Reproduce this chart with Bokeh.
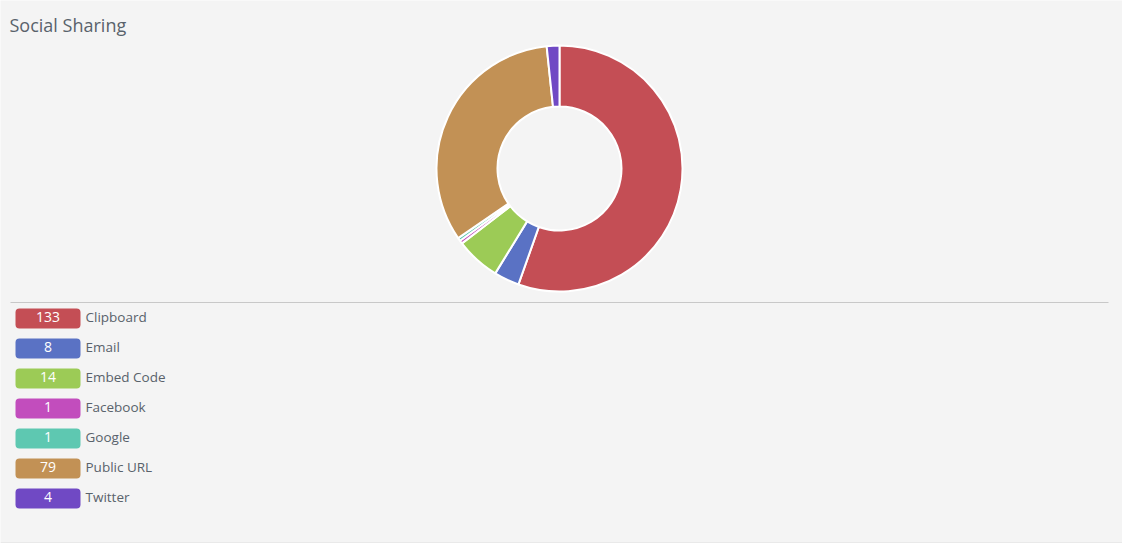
import numpy as np
from bokeh.plotting import figure
from bokeh.models import Range1d, ColumnDataSource
from bokeh.core.properties import value
from bokeh.embed import file_html
from bokeh.resources import INLINE

# Share counts per channel
channels = ["Clipboard", "Email", "Embed Code", "Facebook", "Google", "Public URL", "Twitter"]
counts = [133, 8, 14, 1, 1, 79, 4]
colors = ["#c44e55", "#5a72c4", "#9ccb56", "#c24dbd", "#5ec8b1", "#c29155", "#7049c4"]

W, H = 1122, 543
FONT = value("Open Sans")

p = figure(width=W, height=H, x_range=Range1d(0, W), y_range=Range1d(0, H),
           output_backend="svg", toolbar_location=None, min_border=0,
           background_fill_color="#f4f4f4", border_fill_color="#f4f4f4",
           outline_line_color=None)
p.xaxis.visible = False
p.yaxis.visible = False
p.xgrid.visible = False
p.ygrid.visible = False


def sy(y):
    # page-style y (top-down) to plot y
    return H - y


# Donut, starting at 12 o'clock and running clockwise
vals = np.array(counts, dtype=float)
frac = vals / vals.sum()
cum = np.concatenate([[0.0], np.cumsum(frac)])
start = np.pi / 2 - cum[1:] * 2 * np.pi
end = np.pi / 2 - cum[:-1] * 2 * np.pi
donut = ColumnDataSource(dict(start=start, end=end, color=colors))
p.annular_wedge(x=559, y=sy(168), inner_radius=62, outer_radius=123,
                start_angle="start", end_angle="end", direction="anticlock",
                fill_color="color", line_color="white", line_width=2, source=donut)

# Title
p.text(x=[9], y=[sy(24)], text=["Social Sharing"], text_font=FONT,
       text_font_size="18px", text_color="#59626b", text_baseline="middle")

# Divider lines
p.segment(x0=[10], y0=[sy(302)], x1=[1108], y1=[sy(302)], line_color="#c8c8c8", line_width=1)
p.segment(x0=[0], y0=[sy(542.5)], x1=[W], y1=[sy(542.5)], line_color="#dedede", line_width=1)

# Legend badges with counts
rows = [318 + 30 * i for i in range(len(channels))]
leg = ColumnDataSource(dict(
    top=[sy(r - 10) for r in rows], bottom=[sy(r + 10) for r in rows],
    y=[sy(r - 1.5) for r in rows], color=colors, label=[str(c) for c in counts],
    name=channels))
p.quad(left=15, right=80, top="top", bottom="bottom", fill_color="color",
       line_color=None, border_radius=4, source=leg)
p.text(x=47.5, y="y", text="label", source=leg, text_font=FONT, text_font_size="14px",
       text_color="white", text_align="center", text_baseline="middle")
p.text(x=85, y="y", text="name", source=leg, text_font=FONT, text_font_size="13.5px",
       text_color="#59626b", text_align="left", text_baseline="middle")

open("out.html", "w").write(file_html(p, INLINE))
